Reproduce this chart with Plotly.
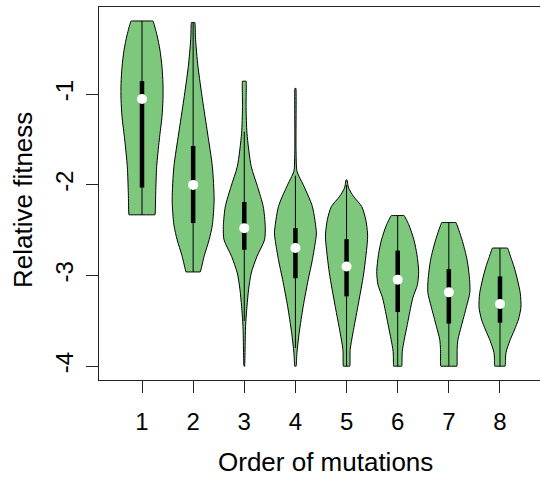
import plotly.graph_objects as go

# ---- data ----
groups = [1, 2, 3, 4, 5, 6, 7, 8]
tick_labels_x = ["1", "2", "3", "4", "5", "6", "7", "8"]
yticks = [-1, -2, -3, -4]

medians = [-1.055, -2.001, -2.478, -2.697, -2.900, -3.046, -3.186, -3.314]
q1 = [-2.031, -2.422, -2.716, -3.030, -3.230, -3.403, -3.530, -3.520]
q3 = [-0.857, -1.572, -2.190, -2.478, -2.600, -2.725, -2.930, -3.010]
whisk_lo = [-2.331, -2.961, -3.500, -3.800, -4.000, -4.000, -4.000, -4.000]
whisk_hi = [-0.194, -0.211, -1.415, -1.900, -2.000, -2.339, -2.416, -2.697]

# density outlines: y levels and relative density (half-width) at each level
dens_y_1 = [-0.194, -0.35, -0.516, -0.70, -0.882, -1.06, -1.25, -1.506, -1.80, -2.092, -2.331]
dens_w_1 = [11, 15, 18, 20, 21, 21, 20, 17.3, 14.7, 13.7, 13]
dens_y_2 = [-0.211, -0.40, -0.699, -1.066, -1.429, -1.80, -2.166, -2.441, -2.606, -2.782, -2.961]
dens_w_2 = [1.7, 2.4, 4.8, 9.3, 14.2, 19, 20.7, 19, 15.8, 11, 7]
dens_y_3 = [-0.857, -1.15, -1.432, -1.80, -2.02, -2.24, -2.46, -2.606, -2.79, -2.972, -3.156, -3.34, -3.56, -4.0]
dens_w_3 = [1.8, 1.8, 2.7, 7, 13.3, 19, 21, 20.3, 12.7, 7, 4.3, 2.7, 1.3, 0.3]
dens_y_4 = [-0.937, -1.60, -1.85, -1.91, -2.02, -2.24, -2.53, -2.606, -2.826, -3.046, -3.34, -3.63, -3.853, -4.0]
dens_w_4 = [0.5, 0.6, 1.5, 3.8, 8.7, 17, 21, 20.3, 17, 12.8, 7.8, 3.8, 1.5, 0.7]
dens_y_5 = [-1.946, -2.034, -2.13, -2.24, -2.386, -2.532, -2.606, -2.972, -3.34, -3.633, -3.816, -4.0]
dens_w_5 = [0.5, 2, 7, 15, 19, 20.7, 20.7, 17, 11.2, 6.3, 3.6, 3.2]
dens_y_6 = [-2.339, -2.441, -2.606, -2.771, -2.958, -3.101, -3.244, -3.398, -3.541, -3.706, -3.838, -4.0]
dens_w_6 = [6.3, 11, 16, 19, 20.7, 19.5, 15, 12, 9.5, 6.5, 4.5, 4]
dens_y_7 = [-2.416, -2.606, -2.826, -3.046, -3.19, -3.34, -3.56, -3.706, -3.816, -4.0]
dens_w_7 = [7, 13, 18, 20.5, 20.7, 17.5, 12.3, 9, 8.2, 8]
dens_y_8 = [-2.697, -2.80, -2.90, -3.05, -3.20, -3.35, -3.48, -3.60, -3.72, -3.85, -4.0]
dens_w_8 = [7.3, 10.5, 13.5, 17, 19.7, 20.3, 18, 14, 9.5, 5.8, 5]

dens_y = [dens_y_1, dens_y_2, dens_y_3, dens_y_4, dens_y_5, dens_y_6, dens_y_7, dens_y_8]
dens_w = [dens_w_1, dens_w_2, dens_w_3, dens_w_4, dens_w_5, dens_w_6, dens_w_7, dens_w_8]

# ---- style ----
FILL = "#7ec87e"
FONT = "Liberation Sans, Arial, Helvetica, sans-serif"
HALF_MAX = 0.41  # max half width in x units


def violin_path(g, ys, hw):
    """Closed outline: flat top, right side down, flat bottom, left side up.
    Tiny insets next to the corners keep the spline corners sharp."""
    e0 = min(0.004, hw[0] * 0.2)
    en = min(0.004, hw[-1] * 0.2)
    n = len(ys)
    xs, yy = [], []
    xs += [g - hw[0] + e0, g + hw[0] - e0]
    yy += [ys[0], ys[0]]
    for i in range(n):
        xs.append(g + hw[i]); yy.append(ys[i])
    xs += [g + hw[-1] - en, g - hw[-1] + en]
    yy += [ys[-1], ys[-1]]
    for i in range(n - 1, -1, -1):
        xs.append(g - hw[i]); yy.append(ys[i])
    xs.append(xs[0]); yy.append(yy[0])
    return xs, yy


fig = go.Figure()

for g, ys, ws, lo, hi, a, b in zip(groups, dens_y, dens_w, whisk_lo, whisk_hi, q1, q3):
    mx = max(ws)
    hw = [HALF_MAX * w / mx for w in ws]
    xs, yy = violin_path(g, ys, hw)
    fig.add_trace(go.Scatter(x=xs, y=yy, mode="lines", fill="toself", fillcolor=FILL,
                             line=dict(color="black", width=1, shape="spline",
                                       smoothing=0.7, simplify=False),
                             hoverinfo="skip", showlegend=False))
    fig.add_trace(go.Scatter(x=[g, g], y=[lo, hi], mode="lines",
                             line=dict(color="black", width=1), showlegend=False, hoverinfo="skip"))
    fig.add_trace(go.Scatter(x=[g, g], y=[a, b], mode="lines",
                             line=dict(color="black", width=4.5), showlegend=False, hoverinfo="skip"))

fig.add_trace(go.Scatter(x=groups, y=medians, mode="markers",
                         marker=dict(color="white", size=10, line=dict(width=0)),
                         showlegend=False, hoverinfo="skip"))

fig.update_layout(
    width=540, height=478,
    margin=dict(l=99, r=0, t=7, b=98),
    paper_bgcolor="white", plot_bgcolor="white",
    font=dict(family=FONT, color="black", size=24),
    xaxis=dict(range=[0.1592, 8.7826], tickvals=groups, ticktext=tick_labels_x,
               showgrid=False, zeroline=False, showline=True, mirror=True,
               linecolor="#222", linewidth=1, ticks="outside", ticklen=12,
               tickwidth=1, tickcolor="#222", tickfont=dict(size=24),
               ticklabelstandoff=8),
    yaxis=dict(range=[-4.152, -0.04], tickvals=yticks, ticktext=[str(v) for v in yticks],
               showgrid=False, zeroline=False, showline=True, mirror=False,
               linecolor="#222", linewidth=1, ticks="outside", ticklen=12,
               tickwidth=1, tickcolor="#222", tickangle=-90, tickfont=dict(size=24),
               ticklabelstandoff=3),
    annotations=[
        dict(text="Order of mutations", xref="paper", yref="paper", x=(325 - 99) / 441,
             y=0, yshift=-(461.5 - 380), xanchor="center", yanchor="middle",
             showarrow=False, font=dict(size=26)),
        dict(text="Relative fitness", xref="paper", yref="paper", x=0, xshift=-(99 - 23),
             y=(380 - 200) / 373, xanchor="center", yanchor="middle", textangle=-90,
             showarrow=False, font=dict(size=26)),
    ],
)

fig.write_html("out.html")
